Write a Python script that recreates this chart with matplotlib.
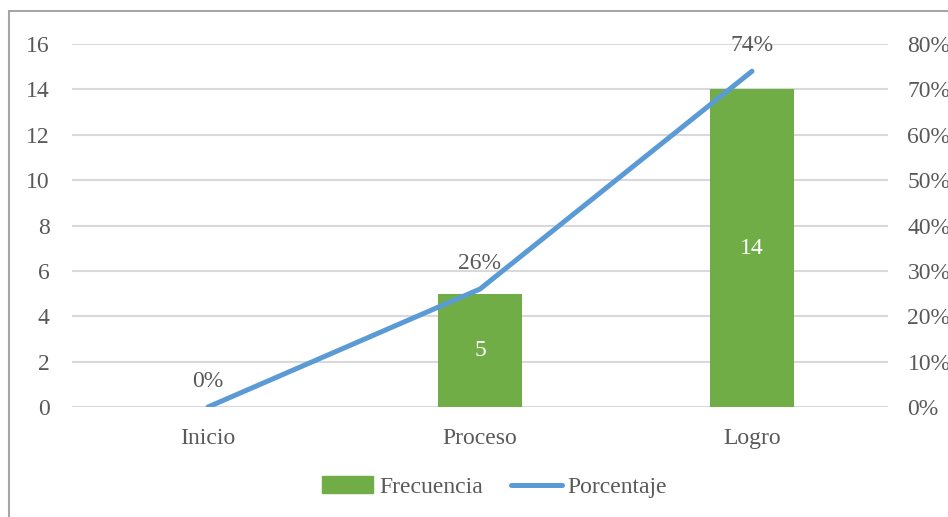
import matplotlib.pyplot as plt
from matplotlib.patches import Rectangle
from matplotlib.lines import Line2D

categories = ["Inicio", "Proceso", "Logro"]
frecuencia = [0, 5, 14]
porcentaje = [0.0, 0.26, 0.74]
pct_labels = ["0%", "26%", "74%"]

green = "#70AD47"
blue = "#5B9BD5"
text_c = "#595959"
grid_c = "#D9D9D9"

plt.rcParams['font.family'] = ['Liberation Serif', 'DejaVu Serif']
fs = 17

fig = plt.figure(figsize=(9.48, 5.17), dpi=100)
ax = fig.add_axes([72/948, 110/517, 816/948, 363/517])
x = list(range(len(categories)))

ax.bar(x, frecuencia, width=0.31, color=green, zorder=2)
for i, v in enumerate(frecuencia):
    if v > 0:
        ax.text(i, v/2, str(v), ha='center', va='center', color='white', fontsize=fs)

ax.set_xlim(-0.5, 2.5)
ax.set_ylim(0, 16)
ax.set_yticks(range(0, 17, 2))
ax.set_xticks(x)
ax.set_xticklabels(categories)
ax.grid(axis='y', color=grid_c, linewidth=1.5, zorder=0)
ax.set_axisbelow(True)
for s in ax.spines.values():
    s.set_visible(False)
ax.tick_params(axis='both', length=0, labelsize=fs, labelcolor=text_c)
ax.tick_params(axis='y', pad=16)
ax.tick_params(axis='x', pad=15)

ax2 = ax.twinx()
ax2.plot(x, porcentaje, color=blue, linewidth=3.6, solid_capstyle='round', zorder=3)
ax2.set_ylim(0, 0.8)
ax2.set_yticks([i/10 for i in range(9)])
ax2.set_yticklabels([f"{i*10}%" for i in range(9)])
for s in ax2.spines.values():
    s.set_visible(False)
ax2.tick_params(axis='y', length=0, labelsize=fs, labelcolor=text_c, pad=14)
for i, (p, lab) in enumerate(zip(porcentaje, pct_labels)):
    ax2.annotate(lab, (i, p), xytext=(0, 11), textcoords='offset points',
                 ha='center', va='bottom', fontsize=fs, color=text_c)

handles = [Rectangle((0, 0), 1, 1, color=green),
           Line2D([0], [0], color=blue, linewidth=3.6, solid_capstyle='round')]
fig.legend(handles, ["Frecuencia", "Porcentaje"], loc='center',
           bbox_to_anchor=(0.522, 1 - 487/517), ncol=2, frameon=False,
           fontsize=fs, labelcolor=text_c, handlelength=2.15, handletextpad=0.25,
           columnspacing=1.2)

fig.patches.append(Rectangle((9/948, -0.1), 1.2, 1 - 11/517 + 0.1,
                             transform=fig.transFigure, fill=False,
                             edgecolor="#A6A6A6", linewidth=1.5))

fig.savefig("out.png", dpi=100)
